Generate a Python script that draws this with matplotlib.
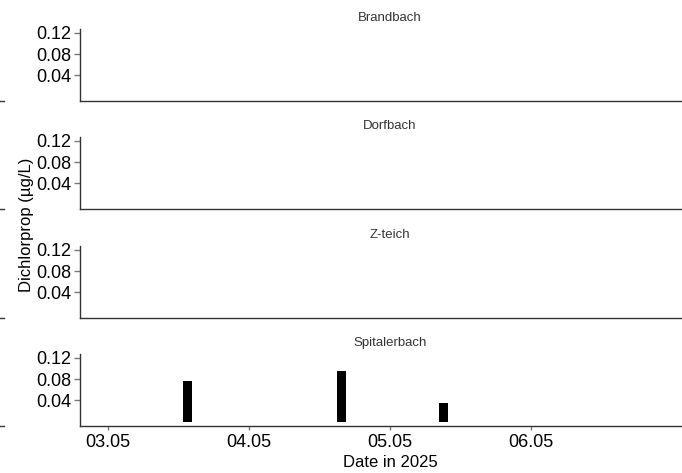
import matplotlib.pyplot as plt
import matplotlib.dates as mdates
from matplotlib.lines import Line2D
import numpy as np
import pandas as pd

plt.rcParams['font.family'] = ['Liberation Sans', 'DejaVu Sans']

sites = ['Brandbach', 'Dorfbach', 'Z-teich', 'Spitalerbach']
# samples with a detection (only Spitalerbach has values)
sample_site = ['Spitalerbach', 'Spitalerbach', 'Spitalerbach']
sample_time = ['2025-05-03 13:30', '2025-05-04 15:40', '2025-05-05 09:10']
sample_value = [0.077, 0.096, 0.035]
xtick_dates = ['2025-05-03', '2025-05-04', '2025-05-05', '2025-05-06']
yticks = [0.04, 0.08, 0.12]

df = pd.DataFrame({'site': sample_site, 'time': pd.to_datetime(sample_time), 'value': sample_value})

W, H = 682, 473
fig = plt.figure(figsize=(W / 100, H / 100), dpi=100)

bottoms = [101, 209, 318, 426]
panel_h = 72
left, right = 80, 700
x0 = mdates.date2num(pd.Timestamp('2025-05-03'))
px_per_day = 140.9
xlim = (x0 + (left - 108.3) / px_per_day, x0 + (right - 108.3) / px_per_day)

for i, site in enumerate(sites):
    b = bottoms[i]
    ax = fig.add_axes([left / W, (H - b) / H, (right - left) / W, panel_h / H])
    sub = df[df['site'] == site]
    ax.bar(mdates.date2num(sub['time']), sub['value'], width=0.063, color='black', zorder=2)
    ax.set_xlim(*xlim)
    ax.set_ylim(-0.008, 0.127)
    ax.set_yticks(yticks)
    ax.set_yticklabels(['%.2f' % v for v in yticks], fontsize=13)
    for s in ['top', 'right']:
        ax.spines[s].set_visible(False)
    for s in ['left', 'bottom']:
        ax.spines[s].set_color('#333333')
        ax.spines[s].set_linewidth(1.0)
    ax.tick_params(axis='y', length=4, color='#777777', width=1, pad=2, labelcolor='black')
    # strip title above each panel
    fig.text(390 / W, (H - (b - 83)) / H, site, ha='center', va='center', fontsize=9.5, color='#333333')
    if i < 3:
        ax.set_xticks([])
    else:
        ax.set_xticks(mdates.date2num(pd.to_datetime(xtick_dates)))
        ax.xaxis.set_major_formatter(mdates.DateFormatter('%d.%m'))
        ax.tick_params(axis='x', length=3, color='#777777', width=1, labelsize=13, pad=3)
    # small outside marks at the left edge
    fig.add_artist(Line2D([0, 4 / W], [(H - b) / H, (H - b) / H], color='#333333', linewidth=1))

fig.text(27 / W, (H - 225) / H, 'Dichlorprop (µg/L)', rotation=90, ha='center', va='center', fontsize=12)
fig.text(390 / W, (H - 462) / H, 'Date in 2025', ha='center', va='center', fontsize=12)

plt.savefig('out.png', dpi=100)
